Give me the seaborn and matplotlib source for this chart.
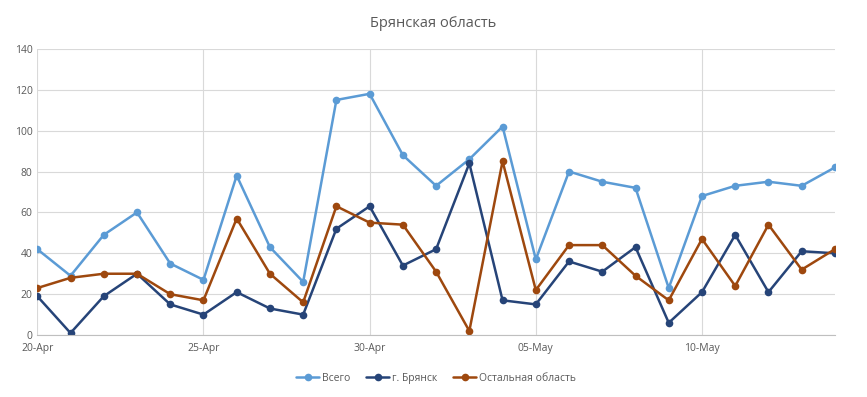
import pandas as pd
import matplotlib.pyplot as plt
import matplotlib.dates as mdates
import seaborn as sns

# Data
dates = pd.date_range("2020-04-20", "2020-05-14", freq="D")
total = [42, 29, 49, 60, 35, 27, 78, 43, 26, 115, 118, 88, 73, 86, 102,
         37, 80, 75, 72, 23, 68, 73, 75, 73, 82]
bryansk = [19, 1, 19, 30, 15, 10, 21, 13, 10, 52, 63, 34, 42, 84, 17,
           15, 36, 31, 43, 6, 21, 49, 21, 41, 40]
rest = [23, 28, 30, 30, 20, 17, 57, 30, 16, 63, 55, 54, 31, 2, 85,
        22, 44, 44, 29, 17, 47, 24, 54, 32, 42]
series_names = ["Всего", "г. Брянск", "Остальная область"]
colors = ["#5B9BD5", "#264478", "#9E480E"]

df = pd.DataFrame({"date": dates, series_names[0]: total,
                   series_names[1]: bryansk, series_names[2]: rest})
long = df.melt(id_vars="date", var_name="series", value_name="value")

sns.set_style("white")
plt.rcParams["font.family"] = ["Open Sans", "DejaVu Sans"]

fig = plt.figure(figsize=(8.67, 3.97), dpi=100)
ax = fig.add_axes([0.043, 0.156, 0.92, 0.721])

sns.lineplot(data=long, x="date", y="value", hue="series",
             hue_order=series_names, palette=colors, marker="o",
             markersize=5.5, markeredgewidth=0, linewidth=1.8, ax=ax)

ax.set_ylim(0, 140)
ax.set_yticks(range(0, 141, 20))
ax.set_xlim(dates[0], dates[-1])
ax.set_xticks(dates[::5])
ax.xaxis.set_major_formatter(mdates.DateFormatter("%d-%b"))
ax.grid(True, color="#d9d9d9", linewidth=0.8)
ax.set_axisbelow(True)
for s in ["top", "right", "left"]:
    ax.spines[s].set_visible(False)
ax.spines["bottom"].set_color("#bfbfbf")
ax.tick_params(axis="both", length=0, labelsize=7.5, colors="#595959")
ax.tick_params(axis="x", pad=6)
ax.set_xlabel("")
ax.set_ylabel("")

fig.suptitle("Брянская область", y=0.96, fontsize=10.5, color="#595959")

handles, labels = ax.get_legend_handles_labels()
ax.legend(handles, labels, loc="upper center", bbox_to_anchor=(0.5, -0.1),
          ncol=3, frameon=False, fontsize=7.5, labelcolor="#595959",
          handlelength=2.2, columnspacing=1.5, handletextpad=0.3)

fig.savefig("out.png", dpi=100)
